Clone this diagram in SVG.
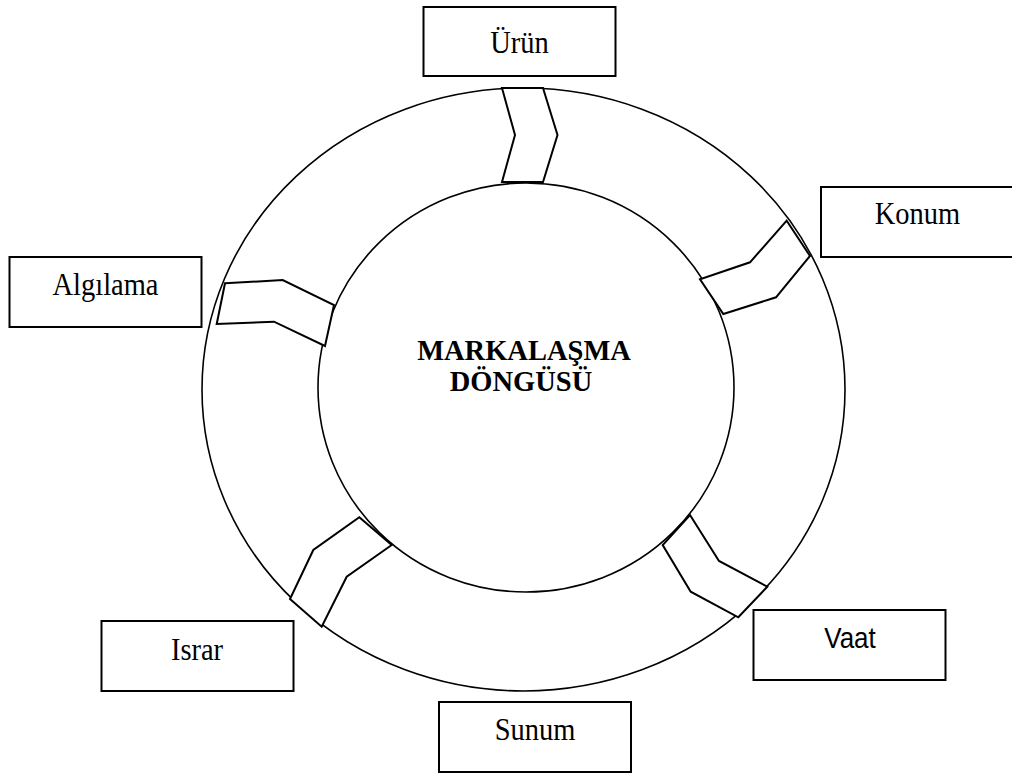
<svg xmlns="http://www.w3.org/2000/svg" width="1012" height="774" viewBox="0 0 1012 774">
  <style>
    .ring { fill: #ffffff; stroke: #000000; stroke-width: 1.6; }
    .arrow { fill: #ffffff; stroke: #000000; stroke-width: 2; stroke-linejoin: miter; }
    .box { fill: #ffffff; stroke: #000000; stroke-width: 2; }
    .lbl { font-family: "Liberation Serif", "Times New Roman", serif; font-size: 28.5px; fill: #000000; text-anchor: middle; }
    .lbl-sans { font-family: "Liberation Sans", Arial, sans-serif; font-size: 26px; fill: #000000; text-anchor: middle; }
    .title { font-family: "Liberation Serif", "Times New Roman", serif; font-size: 28.5px; font-weight: bold; fill: #000000; text-anchor: middle; }
  </style>

  <!-- outer ring and central disc -->
  <g id="cycle">
    <ellipse class="ring" cx="523.5" cy="389.5" rx="321.5" ry="301.5"/>
    <ellipse class="ring" cx="526" cy="387.5" rx="208" ry="204.5"/>
    <text class="title" transform="translate(524 359.5) scale(1 1.05)">MARKALAŞMA</text>
    <text class="title" transform="translate(521 391) scale(1 1.05)">DÖNGÜSÜ</text>
  </g>

  <!-- chevrons linking the stages around the ring -->
  <g id="connectors">
    <polygon class="arrow" points="502,88 543,88 557.5,135 543,182 502,182 515,135"/>
    <polygon class="arrow" points="786.7,220.7 810,256 776,297.3 723.3,314 700,279.3 750,262.3"/>
    <polygon class="arrow" points="690,515 719,561 767.3,586.7 738.3,617.3 690.7,591.7 662.7,545"/>
    <polygon class="arrow" points="359.3,517.3 391.7,545 346.7,576.7 321.7,626.7 290,599 313.3,550"/>
    <polygon class="arrow" points="225,283.3 282.7,280 334,305 325,346 274,321.7 216.7,324"/>
  </g>

  <g id="urun">
    <rect class="box" x="423.5" y="7" width="192" height="69"/>
    <text class="lbl" transform="translate(519.5 53) scale(1 1.1)">Ürün</text>
  </g>
  <g id="konum">
    <rect class="box" x="821" y="187" width="192" height="70"/>
    <text class="lbl" transform="translate(917.5 224) scale(1 1.1)">Konum</text>
  </g>
  <g id="vaat">
    <rect class="box" x="753.5" y="610" width="192" height="70"/>
    <text class="lbl-sans" transform="translate(850 648) scale(1 1.1)">Vaat</text>
  </g>
  <g id="sunum">
    <rect class="box" x="439" y="702" width="192" height="70"/>
    <text class="lbl" transform="translate(535 740) scale(1 1.1)">Sunum</text>
  </g>
  <g id="israr">
    <rect class="box" x="101.5" y="621" width="192" height="70"/>
    <text class="lbl" transform="translate(197 660) scale(1 1.1)">Israr</text>
  </g>
  <g id="algilama">
    <rect class="box" x="9.5" y="257" width="192" height="70"/>
    <text class="lbl" transform="translate(105.5 295) scale(1 1.1)">Algılama</text>
  </g>
</svg>
